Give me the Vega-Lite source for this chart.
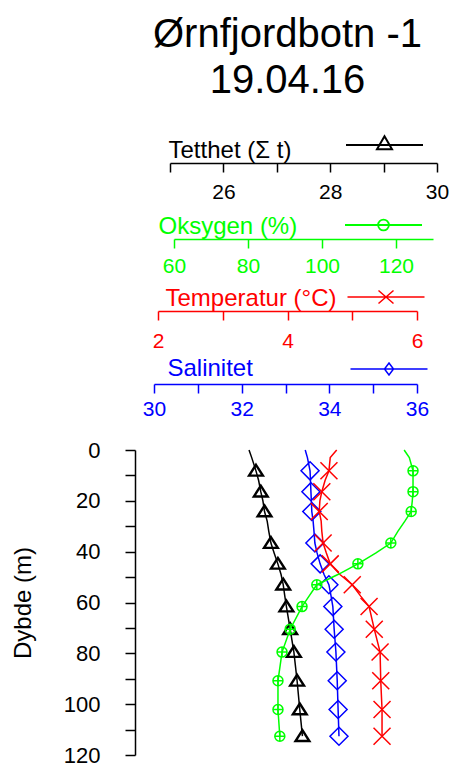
{
  "$schema": "https://vega.github.io/schema/vega-lite/v6.json",
  "width": 305,
  "height": 305,
  "autosize": {"type": "none"},
  "padding": {"left": 135, "top": 450, "right": 12, "bottom": 12},
  "background": "white",
  "config": {
    "view": {"stroke": null},
    "font": "Liberation Sans",
    "axis": {"grid": false, "labelFont": "Liberation Sans", "titleFont": "Liberation Sans", "titleFontWeight": "normal", "labelFontSize": 21, "titleFontSize": 24, "domainWidth": 1.5, "tickWidth": 1.5, "tickSize": 9, "labelOverlap": false, "labelFlush": false}
  },
  "title": {
    "text": ["Ørnfjordbotn -1", "19.04.16"],
    "font": "Liberation Sans",
    "fontSize": 40,
    "fontWeight": "normal",
    "color": "black",
    "anchor": "middle",
    "lineHeight": 46,
    "offset": 5
  },
  "data": {
    "values": [
      {"depth": 0, "tetthet": 26.48, "oksygen": 122.2, "temperatur": 4.76, "salinitet": 33.45, "marker": false},
      {"depth": 3, "tetthet": 26.53, "oksygen": 123.6, "temperatur": 4.66, "salinitet": 33.50, "marker": false},
      {"depth": 8.2, "tetthet": 26.61, "oksygen": 124.6, "temperatur": 4.64, "salinitet": 33.56, "marker": true},
      {"depth": 12, "tetthet": 26.66, "oksygen": 124.6, "temperatur": 4.58, "salinitet": 33.57, "marker": false},
      {"depth": 16.4, "tetthet": 26.70, "oksygen": 124.6, "temperatur": 4.53, "salinitet": 33.58, "marker": true},
      {"depth": 20, "tetthet": 26.74, "oksygen": 124.4, "temperatur": 4.50, "salinitet": 33.59, "marker": false},
      {"depth": 24.2, "tetthet": 26.77, "oksygen": 124.1, "temperatur": 4.49, "salinitet": 33.60, "marker": true},
      {"depth": 28, "tetthet": 26.82, "oksygen": 122.4, "temperatur": 4.52, "salinitet": 33.63, "marker": false},
      {"depth": 32, "tetthet": 26.85, "oksygen": 120.5, "temperatur": 4.53, "salinitet": 33.65, "marker": false},
      {"depth": 36.6, "tetthet": 26.89, "oksygen": 118.6, "temperatur": 4.55, "salinitet": 33.67, "marker": true},
      {"depth": 40.5, "tetthet": 26.95, "oksygen": 114.6, "temperatur": 4.60, "salinitet": 33.72, "marker": false},
      {"depth": 44.8, "tetthet": 27.02, "oksygen": 109.7, "temperatur": 4.66, "salinitet": 33.79, "marker": true},
      {"depth": 49, "tetthet": 27.08, "oksygen": 104.3, "temperatur": 4.81, "salinitet": 33.88, "marker": false},
      {"depth": 53, "tetthet": 27.12, "oksygen": 98.6, "temperatur": 5.00, "salinitet": 33.99, "marker": true},
      {"depth": 57.5, "tetthet": 27.15, "oksygen": 96.5, "temperatur": 5.13, "salinitet": 34.04, "marker": false},
      {"depth": 61.6, "tetthet": 27.18, "oksygen": 94.6, "temperatur": 5.26, "salinitet": 34.08, "marker": true},
      {"depth": 70.5, "tetthet": 27.25, "oksygen": 91.4, "temperatur": 5.34, "salinitet": 34.11, "marker": true},
      {"depth": 79.5, "tetthet": 27.32, "oksygen": 89.2, "temperatur": 5.43, "salinitet": 34.15, "marker": true},
      {"depth": 90.8, "tetthet": 27.38, "oksygen": 88.1, "temperatur": 5.44, "salinitet": 34.18, "marker": true},
      {"depth": 102.1, "tetthet": 27.43, "oksygen": 88.1, "temperatur": 5.46, "salinitet": 34.20, "marker": true},
      {"depth": 112.6, "tetthet": 27.48, "oksygen": 88.6, "temperatur": 5.46, "salinitet": 34.22, "marker": true}
    ]
  },
  "encoding": {
    "y": {
      "field": "depth", "type": "quantitative",
      "scale": {"domain": [0, 120], "reverse": true, "nice": false, "zero": false},
      "axis": {
        "values": [0, 10, 20, 30, 40, 50, 60, 70, 80, 90, 100, 110, 120],
        "labelExpr": "datum.value % 20 === 0 ? datum.label : ''",
        "tickSize": 10, "labelPadding": 25, "labelFontSize": 22,
        "domainColor": "black", "tickColor": "black", "labelColor": "black",
        "title": "Dybde (m)", "titleFontSize": 24, "titleColor": "black",
        "titleAngle": 270, "titleX": -112, "titleY": 152.5, "titleAlign": "center", "titleBaseline": "middle"
      }
    }
  },
  "layer": [
    {
      "encoding": {
        "x": {
          "field": "tetthet", "type": "quantitative",
          "scale": {"domain": [25, 30], "range": [35, 302], "nice": false, "zero": false},
          "axis": {
            "orient": "bottom", "offset": -592,
            "values": [25, 26, 27, 28, 29, 30],
            "labelExpr": "datum.value % 2 === 0 ? datum.label : ''",
            "labelPadding": 9.5,
            "domainColor": "black", "tickColor": "black", "labelColor": "black",
            "title": "Tetthet (Σ t)", "titleColor": "black",
            "titleX": 33, "titleY": -6, "titleAlign": "left", "titleBaseline": "alphabetic", "titleAngle": 0
          }
        }
      },
      "layer": [
        {
          "mark": {"type": "line", "strokeWidth": 1.5},
          "encoding": {
            "order": {"field": "depth", "type": "quantitative"},
            "color": {
              "datum": "Tetthet",
              "scale": {"range": ["black"]},
              "legend": {
                "orient": "none", "legendX": 210, "legendY": -344.5, "padding": 0,
                "title": null, "labelExpr": "''",
                "symbolType": "M-1,0L1,0M0,-0.23L0.195,0.11L-0.195,0.11Z",
                "symbolSize": 5929, "symbolStrokeColor": "black", "symbolFillColor": "transparent", "symbolStrokeWidth": 2
              }
            }
          }
        },
        {
          "transform": [{"filter": "datum.marker"}],
          "mark": {"type": "point", "shape": "M0,-1L1.15,0.8L-1.15,0.8Z", "size": 144, "filled": false, "color": "black", "strokeWidth": 2.4, "opacity": 1}
        }
      ]
    },
    {
      "encoding": {
        "x": {
          "field": "salinitet", "type": "quantitative",
          "scale": {"domain": [30, 36], "range": [19, 282], "nice": false, "zero": false},
          "axis": {
            "orient": "bottom", "offset": -371,
            "values": [30, 31, 32, 33, 34, 35, 36],
            "labelExpr": "datum.value % 2 === 0 ? datum.label : ''",
            "labelPadding": 5.5,
            "domainColor": "#0000FF", "tickColor": "#0000FF", "labelColor": "#0000FF",
            "title": "Salinitet", "titleColor": "#0000FF",
            "titleX": 32, "titleY": -9, "titleAlign": "left", "titleBaseline": "alphabetic", "titleAngle": 0
          }
        }
      },
      "layer": [
        {
          "mark": {"type": "line", "strokeWidth": 1.5},
          "encoding": {
            "order": {"field": "depth", "type": "quantitative"},
            "color": {
              "datum": "Salinitet",
              "scale": {"range": ["#0000FF"]},
              "legend": {
                "orient": "none", "legendX": 214.5, "legendY": -120.5, "padding": 0,
                "title": null, "labelExpr": "''",
                "symbolType": "M-1,0L1,0M0,-0.156L0.117,0L0,0.156L-0.117,0Z",
                "symbolSize": 5929, "symbolStrokeColor": "#0000FF", "symbolFillColor": "transparent", "symbolStrokeWidth": 1.5
              }
            }
          }
        },
        {
          "transform": [{"filter": "datum.marker"}],
          "mark": {"type": "point", "shape": "M0,-1L1,0L0,1L-1,0Z", "size": 324, "filled": false, "color": "#0000FF", "strokeWidth": 1.5, "opacity": 1}
        }
      ]
    },
    {
      "encoding": {
        "x": {
          "field": "temperatur", "type": "quantitative",
          "scale": {"domain": [2, 6], "range": [23, 282], "nice": false, "zero": false},
          "axis": {
            "orient": "bottom", "offset": -444,
            "values": [2, 3, 4, 5, 6],
            "labelExpr": "datum.value % 2 === 0 ? datum.label : ''",
            "labelPadding": 10.5,
            "domainColor": "#FF0000", "tickColor": "#FF0000", "labelColor": "#FF0000",
            "title": "Temperatur (°C)", "titleColor": "#FF0000",
            "titleX": 30, "titleY": -6, "titleAlign": "left", "titleBaseline": "alphabetic", "titleAngle": 0
          }
        }
      },
      "layer": [
        {
          "mark": {"type": "line", "strokeWidth": 1.5},
          "encoding": {
            "order": {"field": "depth", "type": "quantitative"},
            "color": {
              "datum": "Temperatur",
              "scale": {"range": ["#FF0000"]},
              "legend": {
                "orient": "none", "legendX": 211.5, "legendY": -192.5, "padding": 0,
                "title": null, "labelExpr": "''",
                "symbolType": "M-1,0L1,0M-0.195,-0.17L0.195,0.17M-0.195,0.17L0.195,-0.17",
                "symbolSize": 5929, "symbolStrokeColor": "#FF0000", "symbolFillColor": "transparent", "symbolStrokeWidth": 1.5
              }
            }
          }
        },
        {
          "transform": [{"filter": "datum.marker"}],
          "mark": {"type": "point", "shape": "M-1,-1L1,1M-1,1L1,-1", "size": 289, "filled": false, "color": "#FF0000", "strokeWidth": 1.5, "opacity": 1}
        }
      ]
    },
    {
      "encoding": {
        "x": {
          "field": "oksygen", "type": "quantitative",
          "scale": {"domain": [60, 130], "range": [39, 298], "nice": false, "zero": false},
          "axis": {
            "orient": "bottom", "offset": -516,
            "values": [60, 80, 100, 120],
            "labelPadding": 7.5,
            "domainColor": "#00FF00", "tickColor": "#00FF00", "labelColor": "#00FF00",
            "title": "Oksygen (%)", "titleColor": "#00FF00",
            "titleX": 23, "titleY": -6, "titleAlign": "left", "titleBaseline": "alphabetic", "titleAngle": 0
          }
        }
      },
      "layer": [
        {
          "mark": {"type": "line", "strokeWidth": 1.5},
          "encoding": {
            "order": {"field": "depth", "type": "quantitative"},
            "color": {
              "datum": "Oksygen",
              "scale": {"range": ["#00FF00"]},
              "legend": {
                "orient": "none", "legendX": 209, "legendY": -264.5, "padding": 0,
                "title": null, "labelExpr": "''",
                "symbolType": "M-1,0L1,0M-0.14,0A0.14,0.14,0,1,1,0.14,0A0.14,0.14,0,1,1,-0.14,0Z",
                "symbolSize": 5929, "symbolStrokeColor": "#00FF00", "symbolFillColor": "transparent", "symbolStrokeWidth": 1.8
              }
            }
          }
        },
        {
          "transform": [{"filter": "datum.marker"}],
          "mark": {"type": "point", "shape": "M-1,0A1,1,0,1,1,1,0A1,1,0,1,1,-1,0ZM-1,0L1,0M0,-1L0,1", "size": 100, "filled": false, "color": "#00FF00", "strokeWidth": 1.5, "opacity": 1}
        }
      ]
    }
  ],
  "resolve": {
    "scale": {"x": "independent", "color": "independent"},
    "axis": {"x": "independent"},
    "legend": {"color": "independent"}
  }
}
